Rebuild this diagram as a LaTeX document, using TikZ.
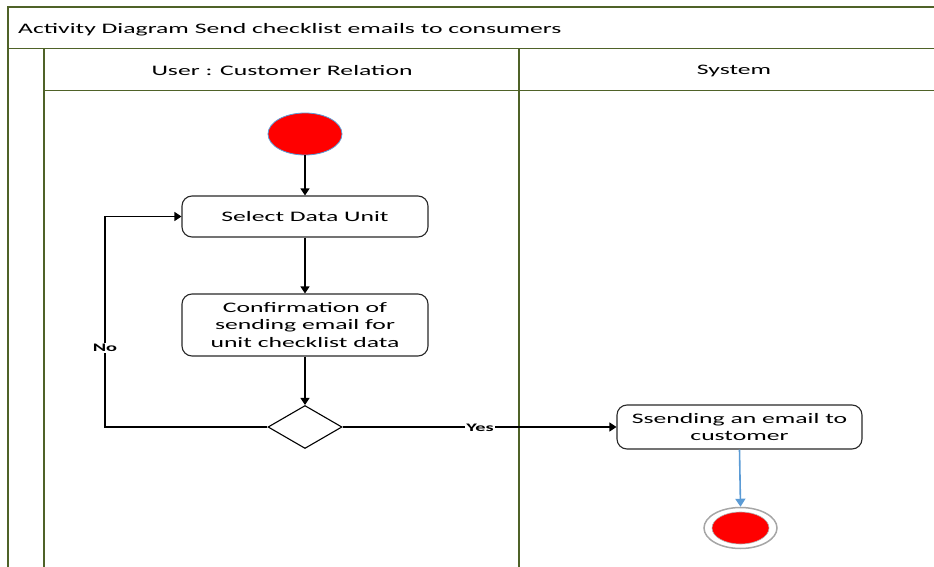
\documentclass[tikz,border=0pt]{standalone}
\usepackage{fontspec}
\setmainfont{Carlito}[FakeStretch=1.77]
\usetikzlibrary{arrows.meta,shapes.geometric}

\definecolor{lanegreen}{RGB}{79,98,40}
\definecolor{flowblue}{RGB}{91,155,213}
\definecolor{boxline}{RGB}{40,40,40}

\begin{document}
\begin{tikzpicture}[x=1pt,y=-1pt,
  font=\fontsize{14.5}{17.5}\selectfont,
  lane/.style={draw=lanegreen,line width=2.2pt},
  sep/.style={draw=lanegreen,line width=1pt},
  action/.style={draw=boxline,line width=1.1pt,rounded corners=10pt,
    minimum width=246pt,minimum height=41pt,align=center,inner sep=2pt},
  flow/.style={-{Triangle[length=7pt,width=9pt]},line width=1.1pt},
  guard/.style={font=\bfseries\fontsize{11.5}{13}\selectfont,fill=white,inner sep=1pt}
]
\useasboundingbox (0,0) rectangle (934,567);

% swimlane frame
\draw[lane,line width=1.8pt] (8,567) -- (8,7) -- (934,7);
\draw[sep] (8,49) -- (934,49);
\draw[lane] (44,49) -- (44,567);
\draw[lane] (519,49) -- (519,567);
\draw[sep] (44,91) -- (934,91);

\node[anchor=west,inner sep=0] (title) at (18,29.5) {Activity Diagram Send checklist emails to consumers};
\node (laneUser) at (282,71) {User : Customer Relation};
\node (laneSys) at (734,71) {System};

% activity nodes
\node[ellipse,fill=red,draw=flowblue,line width=0.8pt,minimum width=74pt,minimum height=42pt,inner sep=0] (start) at (305,134) {};
\node[action] (select) at (305,216.5) {Select Data Unit};
\node[action,minimum height=62pt] (confirm) at (305,325) {Confirmation of\\sending email for\\unit checklist data};
\node[diamond,draw=black,line width=1.1pt,minimum width=74pt,minimum height=43pt,inner sep=0] (decision) at (305,427) {};
\node[action,minimum width=245pt,minimum height=44pt] (send) at (739.5,427) {Ssending an email to\\customer};
\node[ellipse,draw=gray!70,line width=1.5pt,minimum width=73pt,minimum height=41pt,inner sep=0] (end) at (740.5,528) {};
\node[ellipse,fill=red,draw=gray!60,line width=0.6pt,minimum width=57pt,minimum height=32pt,inner sep=0] (endDot) at (end.center) {};

% control flow
\coordinate (noCorner) at (105,427);
\draw[flow] (start) -- (select);
\draw[flow] (select) -- (confirm);
\draw[flow] (confirm) -- (decision);
\draw[flow] (decision.west) -- (noCorner) |- (select.west);
\draw[flow] (decision.east) -- (send.west);
\draw[-{Triangle[length=8pt,width=10pt]},draw=flowblue,fill=flowblue,line width=1.6pt] (send.south) -- (end.north);

\node[guard] (noLabel) at (105,348) {No};
\node[guard] (yesLabel) at (480,428) {Yes};
\end{tikzpicture}
\end{document}
